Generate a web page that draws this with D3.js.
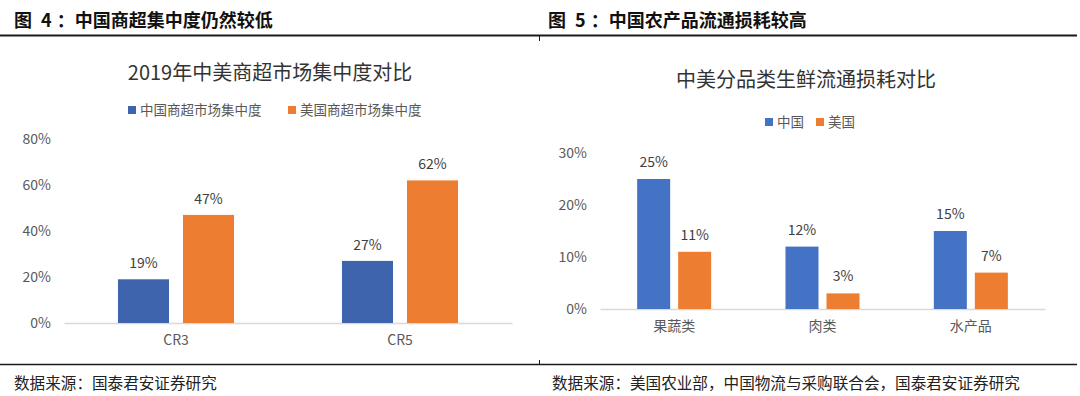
<!DOCTYPE html>
<html><head><meta charset="utf-8">
<script src="https://cdn.jsdelivr.net/npm/d3@7"></script>
<style>
html,body{margin:0;padding:0;background:#fff;}
svg{display:block;font-family:"Noto Sans CJK SC","Noto Sans",sans-serif;}
</style></head>
<body><svg id="c" width="1080" height="396"></svg>
<script>
// Left chart data
const leftCategories = ["CR3", "CR5"];
const leftSeriesNames = ["中国商超市场集中度", "美国商超市场集中度"];
const leftChina = [0.19, 0.27];
const leftUS = [0.47, 0.62];
const leftTicks = [0, 0.2, 0.4, 0.6, 0.8];

// Right chart data
const rightCategories = ["果蔬类", "肉类", "水产品"];
const rightSeriesNames = ["中国", "美国"];
const rightChina = [0.25, 0.12, 0.15];
const rightUS = [0.11, 0.03, 0.07];
const rightTicks = [0, 0.1, 0.2, 0.3];

const svg = d3.select("#c");
const ORANGE = "#ED7D31";

// Frame lines
svg.append("line").attr("x1",0).attr("x2",1077).attr("y1",35.5).attr("y2",35.5).attr("stroke","#1a1a1a").attr("stroke-width",2);
svg.append("line").attr("x1",539.5).attr("x2",539.5).attr("y1",36).attr("y2",41).attr("stroke","#1a1a1a").attr("stroke-width",1);
svg.append("line").attr("x1",0).attr("x2",1077).attr("y1",364.5).attr("y2",364.5).attr("stroke","#1a1a1a").attr("stroke-width",1.5);
svg.append("line").attr("x1",539.5).attr("x2",539.5).attr("y1",360).attr("y2",364).attr("stroke","#1a1a1a").attr("stroke-width",1);

// Headers
function header(x, num, rest){
  const t = svg.append("text").attr("x",x).attr("y",27).attr("font-size",18).attr("font-weight","bold").attr("fill","#111");
  t.append("tspan").text("图");
  t.append("tspan").attr("dx",5).text(" " + num);
  t.append("tspan").attr("dx",5).text("：");
  t.append("tspan").text(rest);
}
header(14, "4", "中国商超集中度仍然较低");
header(548, "5", "中国农产品流通损耗较高");

// Footers
svg.append("text").attr("x",14).attr("y",389).attr("font-size",15.6).attr("fill","#222").text("数据来源：国泰君安证券研究");
svg.append("text").attr("x",552).attr("y",389).attr("font-size",15.6).attr("fill","#222").text("数据来源：美国农业部，中国物流与采购联合会，国泰君安证券研究");

function drawChart(cfg){
  const g = svg.append("g");
  const x0 = d3.scaleBand().domain(cfg.categories).range(cfg.xRange).padding(0);
  const x1 = d3.scaleBand().domain([0,1]).range([0, x0.bandwidth()]).paddingInner(cfg.pi).paddingOuter(cfg.po);
  const y = d3.scaleLinear().domain(cfg.yDomain).range(cfg.yRange);

  // title
  g.append("text").attr("x",cfg.titleX).attr("y",cfg.titleY).attr("text-anchor","middle")
    .attr("font-size",20).attr("fill","#333").text(cfg.title);

  // legend
  cfg.legend.forEach((l,i)=>{
    g.append("rect").attr("x",l.x).attr("y",cfg.legendY-4).attr("width",8).attr("height",8).attr("fill",cfg.colors[i]);
    g.append("text").attr("x",l.x+12).attr("y",cfg.legendY+5).attr("font-size",13.5).attr("fill","#595959").text(cfg.seriesNames[i]);
  });

  // y tick labels
  const yAxis = d3.axisLeft(y).tickValues(cfg.ticks).tickFormat(d3.format(".0%")).tickSize(0).tickPadding(0);
  const ya = g.append("g").attr("transform",`translate(${cfg.yLabelX},0)`).call(yAxis);
  ya.select(".domain").remove();
  ya.selectAll("text").attr("font-size",14).attr("fill","#595959").attr("font-family","'Noto Sans CJK SC',sans-serif").attr("dy","0.35em");

  // axis line
  const xa = g.append("g").attr("transform",`translate(0,${y(0)})`).call(d3.axisBottom(x0).tickSize(0).tickPadding(12));
  xa.select(".domain").attr("stroke","#d9d9d9").attr("stroke-width",1.5);
  xa.selectAll("text").attr("font-size",14).attr("fill","#595959").attr("font-family","'Noto Sans CJK SC',sans-serif");

  // bars
  cfg.categories.forEach((c,ci)=>{
    cfg.series.forEach((s,si)=>{
      const v = s[ci];
      const bx = x0(c)+x1(si);
      g.append("rect").attr("x",bx).attr("y",y(v)).attr("width",x1.bandwidth()).attr("height",y(0)-y(v))
        .attr("fill",cfg.colors[si]);
      g.append("text").attr("x",bx+x1.bandwidth()/2).attr("y",y(v)-cfg.labelGap).attr("text-anchor","middle")
        .attr("font-size",14).attr("fill","#404040").text(d3.format(".0%")(v));
    });
  });
}

drawChart({
  categories: leftCategories, series:[leftChina,leftUS], seriesNames:leftSeriesNames,
  colors:["#3D64AD",ORANGE], xRange:[64,512], pi:0.215, po:0.83,
  yDomain:[0,0.8], yRange:[323,139], ticks:leftTicks, yLabelX:51,
  title:"2019年中美商超市场集中度对比", titleX:270, titleY:80,
  legend:[{x:128},{x:288}], legendY:110, labelGap:11
});

drawChart({
  categories: rightCategories, series:[rightChina,rightUS], seriesNames:rightSeriesNames,
  colors:["#4472C4",ORANGE], xRange:[600,1045], pi:0.195, po:0.906,
  yDomain:[0,0.3], yRange:[309,153], ticks:rightTicks, yLabelX:587,
  title:"中美分品类生鲜流通损耗对比", titleX:806, titleY:87,
  legend:[{x:765},{x:816}], legendY:122, labelGap:12
});
</script>
</body></html>
